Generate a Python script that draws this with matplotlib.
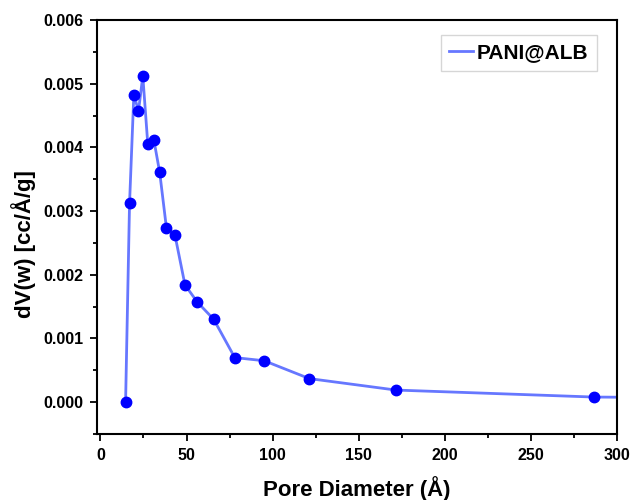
import numpy as np
import matplotlib.pyplot as plt
from matplotlib.ticker import MultipleLocator, AutoMinorLocator

plt.rcParams['font.family'] = ['Liberation Sans', 'DejaVu Sans']
plt.rcParams['font.weight'] = 'bold'

# Pore size distribution data
pore_diameter = [14.6, 16.9, 19.4, 22.1, 24.6, 27.5, 31.0, 34.4, 38.3, 43.3,
                 49.1, 56.3, 65.8, 78.0, 95.1, 121.3, 171.6, 286.7, 400.0]
dvw = [0.0, 0.00312, 0.00483, 0.00457, 0.00512, 0.00405, 0.00412, 0.00361,
       0.00274, 0.00262, 0.00184, 0.00157, 0.00130, 0.00070, 0.00065,
       0.00037, 0.00019, 0.00008, 0.00006]
series_name = "PANI@ALB"

fig = plt.figure(figsize=(6.33, 5.0), dpi=100)
ax = fig.add_axes([97 / 633, 1 - 434 / 500, 520 / 633, 414 / 500])

ax.plot(pore_diameter, dvw, color='#6677ff', lw=2, label=series_name, zorder=2)
ax.plot(pore_diameter, dvw, 'o', color='#0000ff', ms=7.5, zorder=3)

ax.set_xlim(-2, 300)
ax.set_ylim(-0.0005, 0.006)
ax.xaxis.set_major_locator(MultipleLocator(50))
ax.xaxis.set_minor_locator(AutoMinorLocator(2))
ax.yaxis.set_major_locator(MultipleLocator(0.001))
ax.yaxis.set_minor_locator(AutoMinorLocator(2))
ax.yaxis.set_major_formatter(plt.FuncFormatter(lambda v, p: f"{v:.3f}"))

ax.tick_params(which='both', direction='out', width=1.3, labelsize=11.5)
ax.tick_params(which='major', length=5, pad=5)
ax.tick_params(which='minor', length=3)
for s in ax.spines.values():
    s.set_linewidth(1.5)

ax.set_xlabel("Pore Diameter (Å)", fontsize=16, fontweight='bold')
ax.set_ylabel("dV(w) [cc/Å/g]", fontsize=16, fontweight='bold')
ax.xaxis.set_label_coords(0.5, -0.102)
ax.yaxis.set_label_coords(-0.118, 0.459)

leg = ax.legend(loc='upper right', bbox_to_anchor=(0.9615, 0.964), borderaxespad=0,
                fancybox=False, edgecolor='#cccccc', handlelength=1.15,
                handletextpad=0.2, borderpad=0.4, prop={'weight': 'bold', 'size': 15})
leg.get_frame().set_linewidth(1.0)

fig.savefig("out.png", dpi=100)
